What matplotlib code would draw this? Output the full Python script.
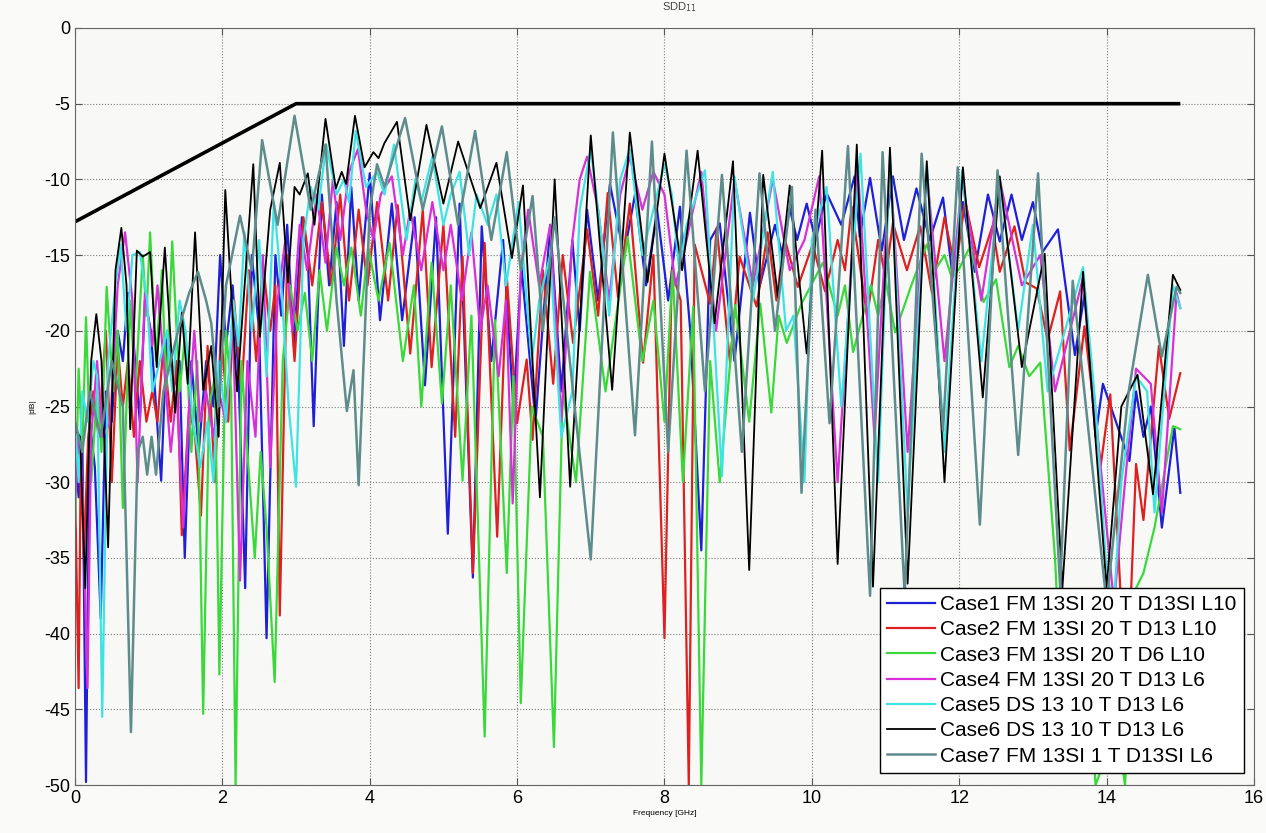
import matplotlib
matplotlib.use("Agg")
import matplotlib.pyplot as plt

# ---- data (peaks / dips of each trace) ----
mask_f = [0.0, 3.0, 15.0]
mask_db = [-12.8, -5.0, -5.0]

case1 = [(0.0,-28),(0.05,-31),(0.1,-27),(0.15,-49.8),(0.2,-26),(0.27,-29),(0.35,-39),(0.42,-24),(0.5,-26),(0.58,-20),
         (0.65,-22),(0.72,-17.5),(0.8,-21),(0.88,-26),(0.95,-18),(1.03,-20),(1.1,-25),(1.17,-29.9),(1.25,-20),(1.33,-24),
         (1.42,-22),(1.49,-35),(1.58,-22),(1.68,-28),(1.78,-22),(1.88,-25),(1.97,-15),(2.05,-21),(2.14,-17),(2.22,-23),
         (2.31,-37),(2.4,-15),(2.5,-20),(2.6,-40.3),(2.72,-15),(2.8,-19),(2.88,-13),(2.97,-21),(3.08,-12.5),(3.16,-15),
         (3.24,-26.3),(3.35,-11),(3.45,-17),(3.55,-11.5),(3.65,-21),(3.75,-10.5),(3.85,-18),(4.0,-9.6),(4.14,-19.3),(4.3,-11.6),
         (4.44,-19.3),(4.61,-12.5),(4.75,-23.6),(4.9,-12.5),(5.06,-33.4),(5.22,-11.6),(5.4,-36.3),(5.52,-13.1),(5.65,-22),(5.81,-14.0),
         (5.95,-25),(6.06,-15.8),(6.25,-26),(6.45,-13),(6.6,-24),(6.75,-14),(6.85,-20),(6.95,-12.0),(7.1,-18),(7.26,-10.3),
         (7.45,-15),(7.6,-11),(7.75,-17),(7.9,-12),(8.05,-18),(8.21,-11.8),(8.35,-20),(8.5,-34.5),(8.62,-14),(8.75,-12.9),
         (8.95,-22),(9.16,-12.2),(9.29,-17.1),(9.5,-13),(9.6,-15),(9.7,-11.9),(9.8,-14),(9.93,-11.6),(10.05,-14),(10.2,-10.9),
         (10.4,-13),(10.58,-9.8),(10.65,-13.8),(10.79,-9.9),(10.95,-14.7),(11.1,-9.8),(11.25,-14),(11.42,-10.6),(11.6,-14),(11.78,-11.2),
         (11.91,-16.4),(12.05,-11.5),(12.21,-16.1),(12.39,-11.0),(12.55,-14.1),(12.71,-11.0),(12.85,-14),(13.0,-11.5),(13.13,-14.8),(13.34,-13.3),
         (13.57,-21.6),(13.7,-17.6),(13.85,-27),(13.95,-23.5),(14.31,-28.6),(14.4,-24),(14.5,-27),(14.6,-25),(14.75,-33),(14.92,-26.4),
         (15.0,-30.7)]

case2 = [(0.0,-30),(0.05,-43.6),(0.08,-28),(0.12,-35),(0.18,-27),(0.25,-24),(0.32,-27),(0.42,-20),(0.5,-30),(0.58,-21),
         (0.65,-25),(0.72,-22),(0.8,-27),(0.88,-22),(0.97,-26),(1.05,-24),(1.12,-26),(1.2,-21),(1.3,-26),(1.38,-22),
         (1.45,-33.5),(1.55,-25),(1.63,-27),(1.71,-32.2),(1.8,-21),(1.9,-30),(1.98,-20),(2.08,-26),(2.16,-18),(2.26,-24),
         (2.36,-16),(2.46,-22),(2.55,-15.5),(2.65,-20),(2.72,-17),(2.78,-38.8),(2.88,-15),(2.98,-22),(3.1,-12.5),(3.22,-17),
         (3.35,-11.5),(3.48,-17),(3.6,-11.0),(3.72,-18),(3.85,-12),(3.97,-17),(4.1,-11.5),(4.25,-18),(4.38,-11.7),(4.55,-21.5),
         (4.72,-12.0),(4.84,-22.4),(5.0,-13),(5.16,-27.0),(5.26,-15.1),(5.4,-36),(5.56,-14.2),(5.73,-33.6),(5.86,-16.4),(6.0,-26.1),
         (6.13,-21.9),(6.21,-27.2),(6.35,-16),(6.49,-23.5),(6.62,-15),(6.76,-20.8),(6.95,-13.3),(7.1,-19),(7.23,-10.9),(7.37,-17.8),
         (7.53,-11.6),(7.71,-22.1),(7.85,-15),(8.0,-40.3),(8.1,-16),(8.22,-18),(8.33,-50),(8.41,-14.3),(8.62,-18.2),(8.71,-13.2),
         (8.89,-22.1),(9.02,-15.1),(9.25,-18.4),(9.4,-13.5),(9.52,-18),(9.63,-13.9),(9.81,-17.1),(10.01,-14.3),(10.18,-17.4),(10.35,-14),
         (10.45,-16),(10.54,-11.8),(10.75,-19.1),(10.9,-14),(11.0,-16.5),(11.1,-12.9),(11.29,-16),(11.47,-13.1),(11.63,-17.5),(11.8,-12.5),
         (11.95,-16),(12.08,-11.4),(12.27,-15.8),(12.45,-13.1),(12.55,-16.1),(12.75,-13.1),(12.9,-16.8),(13.05,-17.2),(13.2,-20.6),(13.37,-17.4),
         (13.5,-27.9),(13.7,-19.7),(13.92,-28.9),(14.05,-24.2),(14.27,-45),(14.4,-28.8),(14.5,-32.5),(14.71,-21),(14.85,-25.8),(15.0,-22.8)]

case3 = [(0.0,-33),(0.05,-22.5),(0.1,-28),(0.15,-19.1),(0.22,-30),(0.3,-24),(0.36,-28),(0.43,-17.1),(0.52,-24),(0.58,-20),
         (0.65,-31.7),(0.75,-18),(0.82,-24),(0.92,-15),(0.97,-19),(1.02,-13.5),(1.1,-22),(1.18,-16),(1.24,-24),(1.32,-14.1),
         (1.42,-24),(1.5,-20),(1.58,-28),(1.66,-22),(1.74,-45.3),(1.82,-25),(1.9,-23),(1.96,-42.7),(2.05,-20),(2.12,-24),
         (2.18,-50),(2.26,-22),(2.34,-28),(2.44,-35),(2.52,-28),(2.6,-33),(2.71,-43.2),(2.82,-22),(2.92,-17),(3.02,-20),
         (3.12,-17.5),(3.22,-22),(3.32,-16),(3.42,-20),(3.55,-14.5),(3.65,-17),(3.75,-14.5),(3.88,-19),(3.98,-14.5),(4.12,-18),
         (4.27,-14.2),(4.45,-22),(4.6,-17),(4.7,-25),(4.84,-15.5),(4.98,-24.8),(5.1,-17),(5.26,-29.9),(5.38,-19),(5.56,-46.8),
         (5.7,-19.3),(5.86,-36),(5.95,-23),(6.05,-44.6),(6.2,-25),(6.35,-27),(6.5,-47.5),(6.62,-23.9),(6.8,-30),(6.99,-16.1),
         (7.2,-24),(7.5,-13.8),(7.7,-22),(7.85,-18),(8.0,-26),(8.11,-16.0),(8.25,-30),(8.39,-18.4),(8.5,-50),(8.62,-22),
         (8.75,-30),(8.96,-18.3),(9.15,-26),(9.3,-18.2),(9.45,-25.4),(9.55,-19),(9.66,-20.8),(9.86,-18.2),(10.15,-15.5),(10.35,-19),
         (10.45,-17),(10.56,-21.4),(10.8,-17),(10.9,-19),(11.0,-16.6),(11.13,-20.1),(11.35,-17),(11.56,-14.3),(11.67,-16),(11.8,-15),
         (11.9,-16.5),(12.0,-15.9),(12.15,-14.4),(12.33,-18.1),(12.5,-16.6),(12.68,-22.4),(12.8,-21),(12.95,-23),(13.1,-22.1),(13.3,-35),
         (13.4,-45),(13.5,-38),(13.6,-42),(13.7,-38),(13.85,-50),(14.0,-48),(14.1,-45),(14.25,-50),(14.4,-37),(14.5,-36),
         (14.65,-33),(14.9,-26.3),(15.0,-26.5)]

case4 = [(0.0,-31),(0.05,-27),(0.1,-30),(0.17,-43.6),(0.22,-27),(0.3,-22),(0.38,-27),(0.48,-26),(0.58,-17),(0.68,-13.5),
         (0.78,-18),(0.85,-30),(0.95,-17.5),(1.05,-21),(1.12,-17),(1.22,-23),(1.3,-28),(1.38,-24),(1.47,-33),(1.55,-25),
         (1.62,-20),(1.7,-26),(1.78,-24),(1.88,-27),(1.95,-24),(2.05,-26),(2.14,-19),(2.24,-36.5),(2.34,-22),(2.45,-27),
         (2.55,-15),(2.65,-29),(2.75,-18),(2.85,-14.2),(2.95,-20),(3.05,-13),(3.15,-16),(3.28,-11),(3.4,-15.5),(3.5,-10),
         (3.6,-14),(3.72,-9.5),(3.84,-8.0),(3.95,-12),(4.05,-14),(4.15,-11),(4.3,-9.8),(4.45,-15),(4.55,-12),(4.7,-16),
         (4.85,-11.5),(5.0,-16),(5.1,-13),(5.25,-18),(5.38,-13.5),(5.5,-20),(5.6,-17),(5.75,-23),(5.85,-18),(5.94,-31.4),
         (6.05,-16),(6.15,-12),(6.3,-17),(6.45,-13),(6.6,-26),(6.75,-14),(6.85,-10),(6.95,-8.5),(7.1,-12),(7.25,-18),
         (7.4,-11),(7.53,-8.5),(7.7,-12),(7.85,-9.5),(8.0,-11),(8.15,-17),(8.3,-14),(8.5,-9.5),(8.7,-20),(8.95,-10),
         (9.2,-17),(9.47,-10),(9.7,-16),(9.9,-14),(10.1,-9.8),(10.35,-30),(10.62,-9.0),(10.85,-27),(11.06,-8.8),(11.3,-28),
         (11.56,-9.5),(11.8,-22),(12.04,-10),(12.3,-18),(12.55,-10),(12.85,-17),(13.1,-15),(13.3,-24),(13.68,-16.5),(13.9,-28),
         (14.1,-38),(14.25,-30),(14.4,-22.5),(14.6,-23.5),(14.75,-32),(14.95,-17.5),(15.0,-18.5)]

case5 = [(0.0,-26),(0.05,-30),(0.1,-24),(0.17,-26),(0.25,-22),(0.3,-23),(0.37,-45.5),(0.45,-22),(0.55,-17),(0.62,-14.3),
         (0.7,-20),(0.78,-15),(0.88,-14.8),(0.98,-18),(1.05,-24),(1.15,-22),(1.25,-20),(1.32,-24),(1.42,-18),(1.5,-20),
         (1.6,-26),(1.7,-29),(1.8,-26),(1.88,-30),(1.95,-22),(2.05,-26),(2.15,-18),(2.22,-21),(2.3,-13.5),(2.4,-20),
         (2.5,-14),(2.6,-23),(2.7,-11.5),(2.8,-17),(2.9,-25),(3.0,-30.3),(3.1,-14),(3.2,-10.5),(3.3,-12),(3.41,-7.7),
         (3.55,-11),(3.65,-10),(3.72,-11.5),(3.81,-6.8),(3.95,-10.5),(4.1,-9.5),(4.2,-11),(4.33,-7.7),(4.5,-14),(4.62,-10),
         (4.7,-11.5),(4.85,-8.5),(5.0,-13),(5.1,-11),(5.22,-9.5),(5.35,-15),(5.45,-11),(5.6,-13),(5.72,-11),(5.85,-17),
         (6.02,-11.5),(6.2,-22),(6.3,-18),(6.45,-15),(6.6,-27),(6.75,-24),(6.85,-12),(7.0,-8.0),(7.15,-14),(7.25,-19),
         (7.4,-10),(7.53,-8.0),(7.7,-15),(7.85,-12),(8.0,-9.0),(8.1,-11),(8.2,-16),(8.3,-13),(8.55,-9.4),(8.78,-29.6),
         (8.95,-9.8),(9.2,-18),(9.47,-9.5),(9.65,-20),(9.75,-19),(9.9,-30),(10.0,-14),(10.2,-10.5),(10.4,-25),(10.66,-8.3),
         (10.9,-30),(11.06,-8.4),(11.3,-32),(11.56,-9.0),(11.8,-28),(12.04,-9.4),(12.3,-22),(12.55,-10),(12.8,-20),(13.0,-13),
         (13.2,-24),(13.68,-15.8),(13.85,-25),(14.0,-36),(14.1,-38),(14.2,-30),(14.4,-23),(14.55,-24),(14.65,-32),(14.9,-17),
         (15.0,-18.5)]

case6 = [(0.0,-26.5),(0.07,-27),(0.14,-37),(0.22,-22),(0.29,-18.9),(0.36,-22),(0.45,-34.3),(0.55,-16),(0.63,-13.2),(0.7,-17),
         (0.75,-26.5),(0.84,-14.7),(0.92,-15.1),(1.02,-14.8),(1.11,-22.4),(1.22,-14.5),(1.36,-25.4),(1.45,-18.8),(1.53,-23.5),(1.63,-13.5),
         (1.74,-23.9),(1.85,-21),(1.95,-27),(2.04,-10.7),(2.2,-24),(2.42,-9.0),(2.51,-20.4),(2.65,-12),(2.78,-8.9),(2.89,-16.8),
         (2.98,-10.5),(3.05,-11),(3.16,-9.6),(3.25,-13),(3.4,-6.0),(3.54,-10.6),(3.62,-9.5),(3.68,-10.3),(3.8,-5.8),(3.93,-9.2),
         (4.05,-8.2),(4.12,-8.6),(4.2,-7.6),(4.37,-6.2),(4.55,-12.7),(4.77,-6.4),(5.0,-11.6),(5.2,-7.5),(5.5,-11.9),(5.72,-8.9),
         (5.93,-15.2),(6.08,-10.4),(6.31,-31.0),(6.51,-10.0),(6.72,-30.3),(7.0,-7.1),(7.29,-23.9),(7.53,-6.9),(7.77,-16.8),(8.0,-8.3),
         (8.24,-16),(8.45,-8.1),(8.68,-19.5),(8.93,-8.8),(9.15,-35.8),(9.34,-9.7),(9.54,-17.8),(9.7,-10.4),(9.93,-21.5),(10.14,-8.1),
         (10.35,-35.4),(10.61,-7.7),(10.83,-36.9),(11.06,-7.9),(11.3,-36.7),(11.56,-8.8),(11.8,-30.0),(12.05,-9.2),(12.32,-24.4),(12.55,-9.8),
         (12.85,-22.4),(13.16,-14.9),(13.4,-37),(13.68,-16.1),(14.0,-37),(14.2,-25),(14.42,-22.9),(14.63,-30.8),(14.9,-16.3),(15.0,-17.3)]

case7 = [(0.0,-26),(0.1,-28),(0.2,-24),(0.35,-27),(0.5,-22),(0.65,-25),(0.76,-46.5),(0.85,-28),(0.92,-27),(0.98,-29.5),
         (1.04,-27),(1.1,-29.5),(1.2,-24),(1.4,-20),(1.55,-17.5),(1.67,-16.1),(1.78,-18),(1.85,-19.5),(1.95,-25),(2.05,-17),
         (2.24,-12.4),(2.4,-16),(2.54,-7.4),(2.75,-13),(2.98,-5.8),(3.2,-12),(3.4,-7.7),(3.55,-18),(3.69,-25.3),(3.78,-22.6),
         (3.85,-30.2),(4.0,-12),(4.1,-9),(4.2,-10.5),(4.48,-5.95),(4.72,-12),(4.98,-6.5),(5.2,-13),(5.43,-6.8),(5.65,-14),
         (5.86,-8.2),(6.05,-16),(6.21,-11.1),(6.35,-20),(6.51,-12.5),(7.0,-35.1),(7.3,-6.9),(7.6,-26.9),(7.83,-7.5),(8.05,-28),
         (8.3,-8.1),(8.55,-24),(8.78,-9.7),(9.05,-28.0),(9.29,-9.6),(9.5,-20),(9.73,-10.5),(9.86,-30.7),(10.05,-12),(10.24,-26.1),
         (10.49,-7.8),(10.79,-37.5),(10.96,-8.2),(11.26,-37.5),(11.49,-8.3),(11.78,-26.6),(11.98,-9.2),(12.28,-32.8),(12.52,-9.4),(12.8,-28.2),
         (13.07,-9.6),(13.37,-37),(13.54,-16.7),(14.0,-38),(14.3,-24),(14.56,-16.3),(14.75,-21.7),(14.95,-17.1),(15.0,-17.5)]

labels = ["Case1 FM 13SI 20 T D13SI L10",
          "Case2 FM 13SI 20 T D13 L10",
          "Case3 FM 13SI 20 T D6 L10",
          "Case4 FM 13SI 20 T D13 L6",
          "Case5 DS 13 10 T D13 L6",
          "Case6 DS 13 10 T D13 L6",
          "Case7 FM 13SI 1 T D13SI L6"]
colors = ["#1f1fd8", "#dd2020", "#3ad83a", "#d830d8", "#3fe3e3", "#000000", "#5e8c8c"]
widths = [1.6, 1.6, 1.6, 1.6, 1.6, 1.3, 1.8]

plt.rcParams['font.family'] = ['Liberation Sans', 'DejaVu Sans']
plt.rcParams['axes.unicode_minus'] = False

fig = plt.figure(figsize=(12.66, 8.33), dpi=100, facecolor="#fafbf8")
ax = fig.add_axes([0.0592, 0.0576, 0.9313, 0.9088])
ax.set_facecolor("#f8f9f6")

for data, lab, c, lw in zip([case1, case2, case3, case4, case5, case6, case7], labels, colors, widths):
    f = [p[0] for p in data]
    d = [p[1] for p in data]
    ax.plot(f, d, color=c, lw=lw, label=lab, solid_joinstyle="round")

ax.plot(mask_f, mask_db, color="black", lw=2.6, solid_capstyle="butt")

ax.set_xlim(0, 16)
ax.set_ylim(-50, 0)
ax.set_xticks(range(0, 17, 2))
ax.set_yticks(range(-50, 1, 5))
ax.grid(True, color="#808080", linestyle=":", linewidth=0.8)
ax.tick_params(direction="in", top=True, right=True, labelsize=13, length=5, color="#555555")
for s in ax.spines.values():
    s.set_color("#666666")

ax.set_xlabel("Frequency [GHz]", fontsize=6, labelpad=2)
ax.set_ylabel("|dB|", fontsize=6, labelpad=6)
fig.text(0.537, 0.991, "SDD$_{11}$", fontsize=8, ha="center", va="center", color="#444444")

leg = ax.legend(loc="lower right", bbox_to_anchor=(0.9915, 0.0159), borderaxespad=0,
                fontsize=15, frameon=True, fancybox=False, edgecolor="black",
                handlelength=2.3, handletextpad=0.25, labelspacing=0.3, borderpad=0.35)
leg.get_frame().set_linewidth(1.0)
leg.get_frame().set_facecolor("white")
leg.get_frame().set_alpha(1)

fig.savefig("out.png", dpi=100, facecolor=fig.get_facecolor())
